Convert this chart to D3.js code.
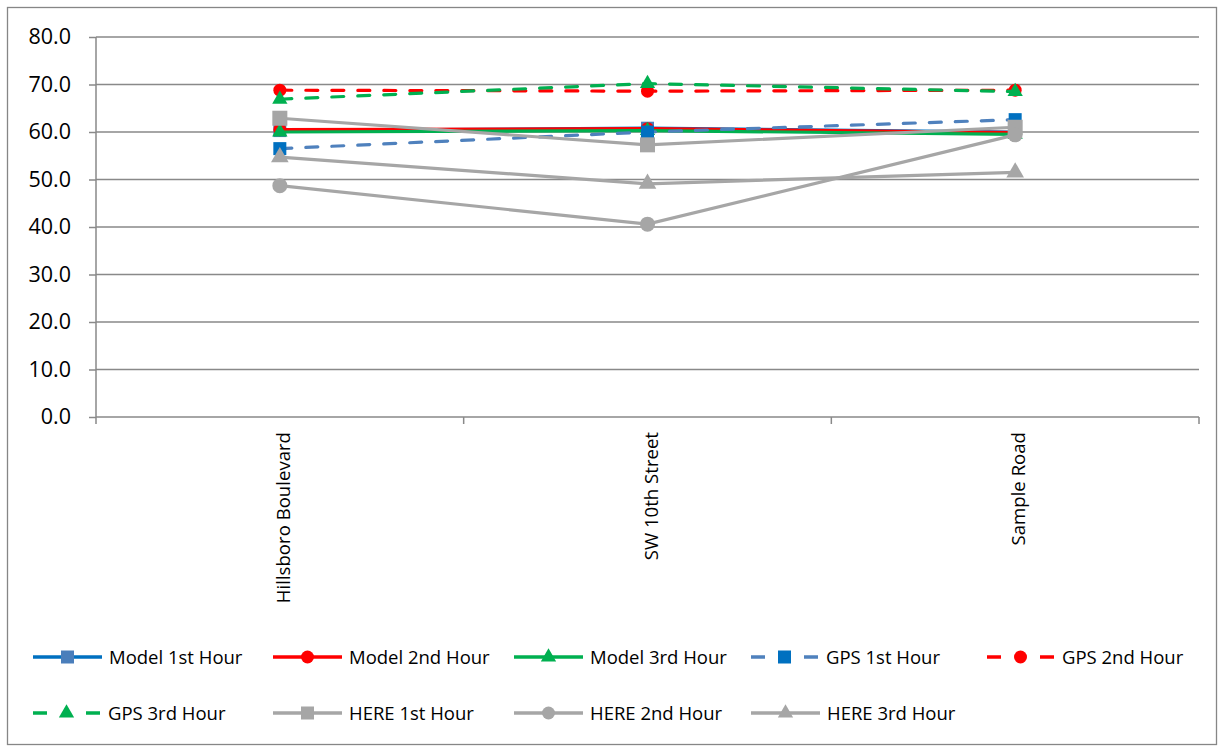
<!DOCTYPE html>
<html><head><meta charset="utf-8">
<script src="https://cdn.jsdelivr.net/npm/d3@7"></script>
<style>body{margin:0;background:#fff}svg{display:block}text{font-family:"Open Sans",Carlito,Lato,"Liberation Sans",sans-serif;fill:#000}</style>
</head><body><svg id="c" width="1220" height="749"></svg>
<script>
const categories = ["Hillsboro Boulevard", "SW 10th Street", "Sample Road"];
const yTicks = [0, 10, 20, 30, 40, 50, 60, 70, 80];
const seriesNames = ["Model 1st Hour","Model 2nd Hour","Model 3rd Hour","GPS 1st Hour","GPS 2nd Hour","GPS 3rd Hour","HERE 1st Hour","HERE 2nd Hour","HERE 3rd Hour"];
const model1 = [60.3, 60.8, 60.0];
const model2 = [60.5, 60.7, 59.9];
const model3 = [60.0, 60.3, 59.5];
const gps1 = [56.5, 60.0, 62.6];
const gps2 = [68.8, 68.6, 68.8];
const gps3 = [66.9, 70.2, 68.5];
const here1 = [62.9, 57.3, 61.0];
const here2 = [48.7, 40.6, 59.4];
const here3 = [54.7, 49.1, 51.5];
const seriesValues = [model1, model2, model3, gps1, gps2, gps3, here1, here2, here3];

const styles = [
  {line:"#0070C0", mark:"#4A7EBB", shape:"square", dash:null},
  {line:"#FF0000", mark:"#FF0000", shape:"circle", dash:null},
  {line:"#00B050", mark:"#00B050", shape:"triangle", dash:null},
  {line:"#4F81BD", mark:"#0070C0", shape:"square", dash:"12,14"},
  {line:"#FF0000", mark:"#FF0000", shape:"circle", dash:"12,14"},
  {line:"#00B050", mark:"#00B050", shape:"triangle", dash:"12,14"},
  {line:"#A6A6A6", mark:"#A6A6A6", shape:"square", dash:null},
  {line:"#A6A6A6", mark:"#A6A6A6", shape:"circle", dash:null},
  {line:"#A6A6A6", mark:"#A6A6A6", shape:"triangle", dash:null}
];

const svg = d3.select("#c");
svg.append("rect").attr("x",7.5).attr("y",7.5).attr("width",1209).attr("height",737)
  .attr("fill","#fff").attr("stroke","#868686").attr("stroke-width",1.3);

const L=96, R=1199, T=37, B=417;
const x = d3.scaleBand().domain(categories).range([L,R]);
const y = d3.scaleLinear().domain([0,80]).range([B,T]);
const gridC = "#898989";

// gridlines
svg.append("g").selectAll("line").data(yTicks.filter(d=>d>0)).join("line")
  .attr("x1",L).attr("x2",R).attr("y1",d=>y(d)).attr("y2",d=>y(d))
  .attr("stroke",gridC).attr("stroke-width",1.5);

// y axis
const ya = svg.append("g").attr("transform",`translate(${L},0)`)
  .call(d3.axisLeft(y).tickValues(yTicks).tickFormat(d3.format(".1f")).tickSize(7).tickPadding(18));
ya.select(".domain").attr("stroke",gridC).attr("stroke-width",1.5).attr("d",`M0,${T}V${B}`);
ya.selectAll(".tick line").attr("stroke",gridC).attr("stroke-width",1.5);
ya.selectAll(".tick text").style("font-size","21.5px").attr("fill","#000");

// x axis
const xa = svg.append("g").attr("transform",`translate(0,${B})`);
xa.append("line").attr("x1",L).attr("x2",R).attr("stroke",gridC).attr("stroke-width",1.5);
const bounds = categories.map(c=>x(c)).concat([R]);
xa.selectAll("line.tk").data(bounds).join("line").attr("class","tk")
  .attr("x1",d=>d).attr("x2",d=>d).attr("y1",0).attr("y2",7).attr("stroke",gridC).attr("stroke-width",1.5);
xa.selectAll("text").data(categories).join("text")
  .attr("transform",d=>`translate(${x(d)+x.bandwidth()/2+10},15) rotate(-90)`)
  .attr("text-anchor","end").style("font-size","18.6px").text(d=>d);

const cx = c => x(c)+x.bandwidth()/2;
const line = d3.line().x((d,i)=>cx(categories[i])).y(d=>y(d));

function marker(g, shape, color, size){
  if(shape==="square") g.append("rect").attr("x",-size/2).attr("y",-size/2).attr("width",size).attr("height",size).attr("fill",color);
  else if(shape==="circle") g.append("circle").attr("r",size/2).attr("fill",color);
  else g.append("path").attr("d",d3.symbol(d3.symbolTriangle, size*size*0.6)()).attr("fill",color);
}

seriesValues.forEach((vals,si)=>{
  const s = styles[si];
  const g = svg.append("g");
  g.append("path").attr("d",line(vals)).attr("fill","none").attr("stroke",s.line)
    .attr("stroke-width",3.2).attr("stroke-dasharray",s.dash).attr("stroke-linecap","round");
  vals.forEach((v,i)=>{
    const m = g.append("g").attr("transform",`translate(${cx(categories[i])},${y(v)})`);
    marker(m, s.shape, s.mark, si>=6?15:13);
  });
});

// legend
const legX = [33, 273, 514, 751, 987];
seriesNames.forEach((n,i)=>{
  const row = Math.floor(i/5), col = i%5;
  const s = styles[i];
  const gx = legX[col], gy = 657 + row*56;
  const g = svg.append("g").attr("transform",`translate(${gx},${gy})`);
  g.append("line").attr("x1",0).attr("x2",s.dash?67:69).attr("stroke",s.line).attr("stroke-width",3.4)
    .attr("stroke-dasharray",s.dash?"14,39":null);
  const m = g.append("g").attr("transform",`translate(${s.dash?33.5:34.5},0)`);
  marker(m, s.shape, s.mark, 13);
  g.append("text").attr("x",s.dash?75:76).attr("y",6.5).style("font-size","18.5px").text(n);
});
</script></body></html>
